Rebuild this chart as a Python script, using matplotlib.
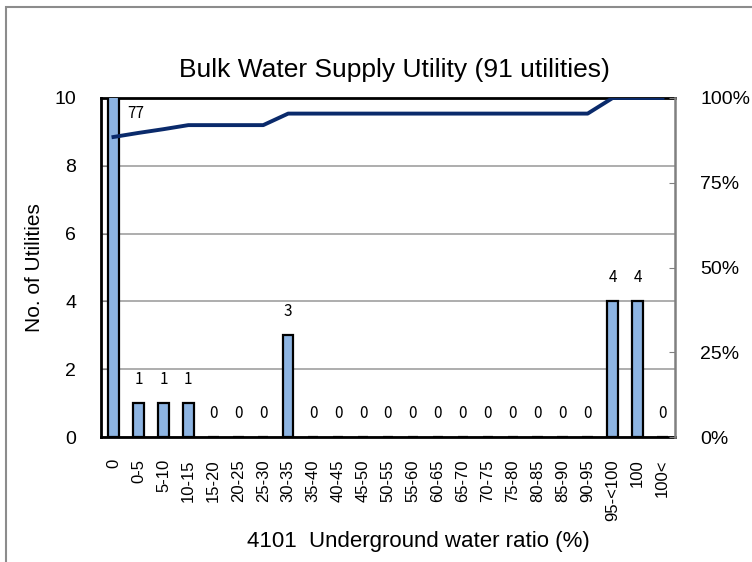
import matplotlib
matplotlib.use("Agg")
import matplotlib.pyplot as plt
from matplotlib.patches import Rectangle

categories = ["0", "0-5", "5-10", "10-15", "15-20", "20-25", "25-30", "30-35",
              "35-40", "40-45", "45-50", "50-55", "55-60", "60-65", "65-70",
              "70-75", "75-80", "80-85", "85-90", "90-95", "95-<100", "100", "100<"]
counts = [77, 1, 1, 1, 0, 0, 0, 3, 0, 0, 0, 0, 0, 0, 0, 0, 0, 0, 0, 0, 4, 4, 0]
cumulative_pct = [88.5, 89.7, 90.8, 92.0, 92.0, 92.0, 92.0, 95.4, 95.4, 95.4, 95.4,
                  95.4, 95.4, 95.4, 95.4, 95.4, 95.4, 95.4, 95.4, 95.4, 100, 100, 100]
left_ticks = [0, 2, 4, 6, 8, 10]
right_ticks = [0, 25, 50, 75, 100]
right_labels = ["0%", "25%", "50%", "75%", "100%"]

plt.rcParams['font.family'] = ['Liberation Sans', 'DejaVu Sans']

fig = plt.figure(figsize=(7.52, 5.62), dpi=100)
fig.patches.append(Rectangle((6/752, -0.1), 1.2, 1.1 - 7/562, transform=fig.transFigure,
                             fill=False, edgecolor='#8c8c8c', linewidth=1.5))

L, R, T, B = 101, 675, 98, 437
ax = fig.add_axes([L/752, (562-B)/562, (R-L)/752, (B-T)/562])
x = list(range(len(categories)))
ax.bar(x, counts, width=0.42, color='#8db4e2', edgecolor='black', linewidth=1.6, zorder=3)
ax.set_xlim(-0.5, len(categories) - 0.5)
ax.set_ylim(0, 10)
ax.set_yticks(left_ticks)
ax.set_yticklabels([str(t) for t in left_ticks], fontsize=14)
ax.yaxis.grid(True, color='#a0a0a0', linewidth=1.2, zorder=0)
ax.set_axisbelow(True)
ax.set_xticks(x)
ax.set_xticklabels(categories, rotation=90, fontsize=12)
ax.tick_params(axis='x', length=0, pad=16)
ax.tick_params(axis='y', length=4, direction='in', color='#808080', pad=18)
ax.set_ylabel("No. of Utilities", fontsize=15)
ax.yaxis.set_label_coords((35 - L) / (R - L), 0.5)
ax.set_xlabel("4101  Underground water ratio (%)", fontsize=16)
ax.xaxis.set_label_coords((418 - L) / (R - L), -(542 - B) / (B - T))
ax.xaxis.label.set_va('center')
ax.yaxis.label.set_va('center')
for s in ['left', 'bottom', 'top']:
    ax.spines[s].set_linewidth(2)
    ax.spines[s].set_color('black')
ax.spines['right'].set_visible(False)

for xi, c in zip(x, counts):
    if c > 10:
        ax.text(xi + 0.9, 9.55, str(c), ha='center', va='center', fontsize=11,
                family=['Noto Sans CJK JP', 'DejaVu Sans'], zorder=5)
    else:
        ax.annotate(str(c), (xi, c), xytext=(0, 17), textcoords='offset points',
                    ha='center', va='center', fontsize=11,
                    family=['Noto Sans CJK JP', 'DejaVu Sans'], zorder=5)

ax2 = ax.twinx()
ax2.plot(x, cumulative_pct, color='#0a2a6b', linewidth=2.8, zorder=4)
ax2.set_ylim(0, 100)
ax2.set_yticks(right_ticks)
ax2.set_yticklabels(right_labels, fontsize=14)
ax2.tick_params(axis='y', length=4, direction='in', color='#808080', pad=18)
for s in ['left', 'bottom', 'top']:
    ax2.spines[s].set_visible(False)
ax2.spines['right'].set_color('#808080')
ax2.spines['right'].set_linewidth(1.8)

fig.text(394/752, 1 - 70/562, "Bulk Water Supply Utility (91 utilities)", ha='center',
         va='center', fontsize=19)

fig.savefig("out.png", dpi=100)
